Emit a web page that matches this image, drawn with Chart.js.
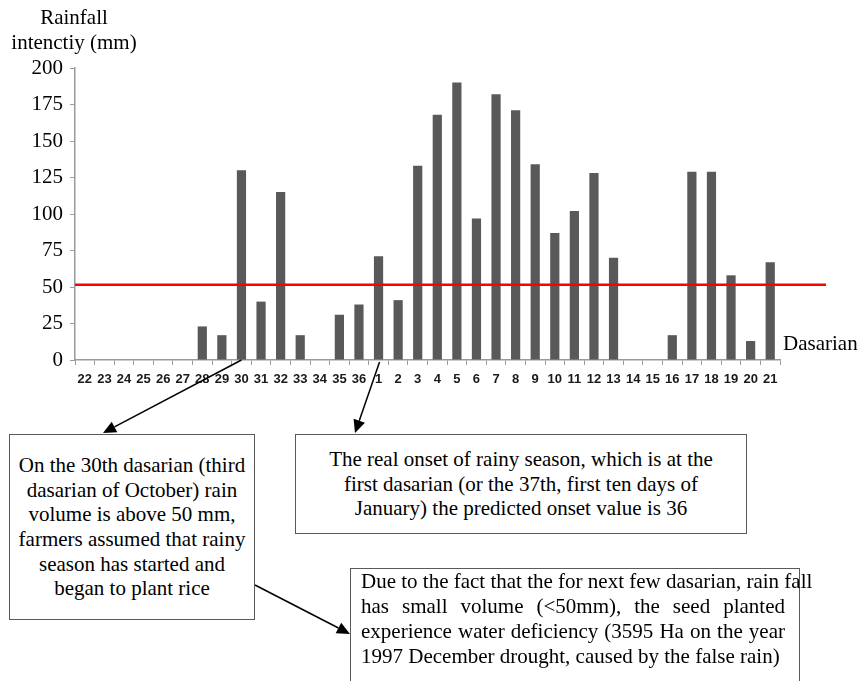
<!DOCTYPE html>
<html>
<head>
<meta charset="utf-8">
<script src="https://cdn.jsdelivr.net/npm/chart.js@4/dist/chart.umd.min.js"></script>
<style>
  html, body { margin: 0; padding: 0; background: #fff; overflow: hidden; }
  #wrap { position: relative; width: 865px; height: 681px; }
  #wrap canvas { position: absolute; left: 0; top: 0; }
  .txt { position: absolute; font-family: "Liberation Serif", "Times New Roman", Times, serif; font-size: 21px; line-height: 25px; color: #000; white-space: nowrap; }
  .box { position: absolute; box-sizing: border-box; border: 1px solid #5a5a5a; background: #fff;
         font-family: "Liberation Serif", "Times New Roman", Times, serif; font-size: 21px; line-height: 24.7px; color: #000; }
  .center { display: flex; flex-direction: column; justify-content: center; text-align: center; white-space: nowrap; }
  .just div { text-align: justify; text-align-last: justify; white-space: nowrap; }
  .just div.last { text-align-last: left; }
</style>
</head>
<body>
<div id="wrap">
  <canvas id="rainChart" width="865" height="681"></canvas>

  <div class="txt" style="left:0; top:5px; width:148px; text-align:center;">Rainfall<br>intenctiy (mm)</div>
  <div class="txt" style="left:783px; top:331px;">Dasarian</div>

  <div class="box center" style="left:9px; top:434px; width:246px; height:186px;">
    On the 30th dasarian (third<br>dasarian of October) rain<br>volume is above 50 mm,<br>farmers assumed that rainy<br>season has started and<br>began to plant rice
  </div>

  <div class="box center" style="left:295px; top:434px; width:452px; height:100px;">
    The real onset of rainy season, which is at the<br>first dasarian (or the 37th, first ten days of<br>January) the predicted onset value is 36
  </div>

  <div class="box just" style="left:350px; top:568px; width:450px; height:130px; padding:0 14px 0 10px; line-height:25px;">
    <div>Due to the fact that the for next few dasarian, rain fall</div>
    <div>has small volume (&lt;50mm), the seed planted</div>
    <div>experience water deficiency (3595 Ha on the year</div>
    <div class="last">1997 December drought, caused by the false rain)</div>
  </div>
</div>

<script>
// dasarian numbers, from 22 of previous year to 21 of the next
const dasarian = ['22', '23', '24', '25', '26', '27', '28', '29', '30', '31', '32', '33', '34', '35', '36',
  '1', '2', '3', '4', '5', '6', '7', '8', '9', '10', '11', '12', '13', '14', '15', '16', '17', '18', '19', '20', '21'];

// rainfall (mm) per dasarian
const rainfall = [0, 0, 0, 0, 0, 0, 23, 17, 130, 40, 115, 17, 0, 31, 38,
  71, 41, 133, 168, 190, 97, 182, 171, 134, 87, 102, 128, 70, 0, 0, 17, 129, 129, 58, 13, 67];

const yTicks = [0, 25, 50, 75, 100, 125, 150, 175, 200];
const threshold = 51.5;

// arrows start at these bars
const falseOnsetIdx = dasarian.indexOf('30');
const realOnsetIdx = dasarian.indexOf('1');

function drawArrow(ctx, x1, y1, x2, y2) {
  const ang = Math.atan2(y2 - y1, x2 - x1);
  const len = 13, half = 6;
  ctx.save();
  ctx.strokeStyle = '#000';
  ctx.fillStyle = '#000';
  ctx.lineWidth = 1.5;
  ctx.beginPath();
  ctx.moveTo(x1, y1);
  ctx.lineTo(x2 - Math.cos(ang) * len, y2 - Math.sin(ang) * len);
  ctx.stroke();
  ctx.beginPath();
  ctx.moveTo(x2, y2);
  ctx.lineTo(x2 - Math.cos(ang) * len + Math.sin(ang) * half, y2 - Math.sin(ang) * len - Math.cos(ang) * half);
  ctx.lineTo(x2 - Math.cos(ang) * len - Math.sin(ang) * half, y2 - Math.sin(ang) * len + Math.cos(ang) * half);
  ctx.closePath();
  ctx.fill();
  ctx.restore();
}

// red 50mm line + the callout arrows
const overlayPlugin = {
  id: 'overlay',
  afterDatasetsDraw(chart) {
    const { ctx, chartArea, scales } = chart;
    const yPix = scales.y.getPixelForValue(threshold);
    ctx.save();
    ctx.strokeStyle = '#ff0000';
    ctx.lineWidth = 2.5;
    ctx.beginPath();
    ctx.moveTo(chartArea.left, yPix);
    ctx.lineTo(chartArea.right + 46, yPix);
    ctx.stroke();
    ctx.restore();

    const base = scales.y.getPixelForValue(0);
    drawArrow(ctx, scales.x.getPixelForValue(falseOnsetIdx), base, 103, 433);
    drawArrow(ctx, scales.x.getPixelForValue(realOnsetIdx) + 1, base + 2, 355, 433);
    drawArrow(ctx, 255, 585, 350, 634);
  }
};

new Chart(document.getElementById('rainChart'), {
  type: 'bar',
  data: {
    labels: dasarian,
    datasets: [{
      data: rainfall,
      backgroundColor: '#595959',
      borderWidth: 0,
      barPercentage: 0.47,
      categoryPercentage: 1.0,
    }],
  },
  options: {
    responsive: false,
    animation: false,
    layout: { padding: { top: 68, right: 85, left: 0, bottom: 0 } },
    plugins: {
      legend: { display: false },
      tooltip: { enabled: false },
    },
    scales: {
      x: {
        afterFit: s => { s.height = 321; },
        border: { color: '#9a9a9a', width: 1.5 },
        grid: { display: true, drawOnChartArea: false, drawTicks: true, tickLength: 5, color: '#9a9a9a', lineWidth: 1 },
        ticks: {
          autoSkip: false, maxRotation: 0, padding: 7, color: '#1a1a1a',
          font: { family: 'Liberation Sans', size: 13, weight: 'bold' },
        },
      },
      y: {
        min: 0,
        max: 200,
        afterFit: s => { s.width = 75; },
        afterBuildTicks: s => { s.ticks = yTicks.map(v => ({ value: v })); },
        border: { color: '#9a9a9a', width: 1.5 },
        grid: { display: true, drawOnChartArea: false, drawTicks: true, tickLength: 5, color: '#9a9a9a', lineWidth: 1 },
        ticks: {
          padding: 7, color: '#000',
          font: { family: '"Liberation Serif", serif', size: 21 },
        },
      },
    },
  },
  plugins: [overlayPlugin],
});
</script>
</body>
</html>
